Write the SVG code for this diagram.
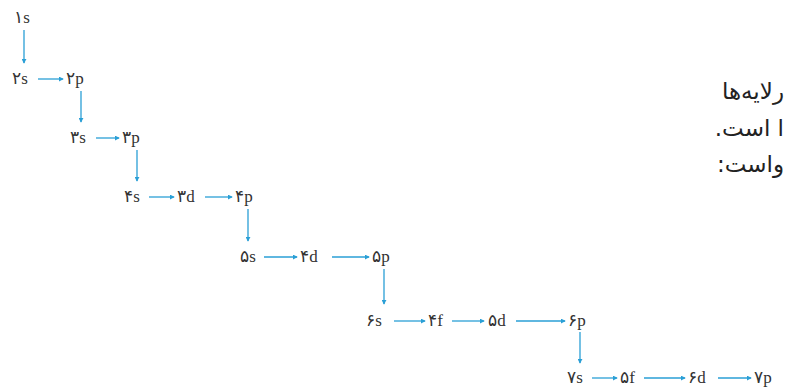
<svg xmlns="http://www.w3.org/2000/svg" width="785" height="389" viewBox="0 0 785 389">
<defs>
<marker id="ah" viewBox="0 0 6 6" refX="5" refY="3" markerWidth="5" markerHeight="5" orient="auto" markerUnits="userSpaceOnUse">
<path d="M0,0 L6,3 L0,6 z" fill="#2a9fd6"/>
</marker>
<style>
.lb{font-family:"Liberation Serif","DejaVu Sans",serif;font-size:17px;fill:#333;}
.fa{font-family:"DejaVu Sans","Noto Sans",sans-serif;font-size:23px;fill:#222;}
.cn line{stroke:#2a9fd6;stroke-width:1.3;marker-end:url(#ah);}
</style>
</defs>
<rect width="785" height="389" fill="#ffffff"/>
<g id="n1s"><text class="lb" x="14" y="23">۱s</text></g>
<g id="n2s"><text class="lb" x="12" y="84">۲s</text></g>
<g id="n2p"><text class="lb" x="66" y="84">۲p</text></g>
<g id="n3s"><text class="lb" x="70" y="143">۳s</text></g>
<g id="n3p"><text class="lb" x="122" y="143">۳p</text></g>
<g id="n4s"><text class="lb" x="124" y="202">۴s</text></g>
<g id="n3d"><text class="lb" x="177" y="202">۳d</text></g>
<g id="n4p"><text class="lb" x="235" y="202">۴p</text></g>
<g id="n5s"><text class="lb" x="240" y="262">۵s</text></g>
<g id="n4d"><text class="lb" x="300" y="262">۴d</text></g>
<g id="n5p"><text class="lb" x="372" y="262">۵p</text></g>
<g id="n6s"><text class="lb" x="366" y="326">۶s</text></g>
<g id="n4f"><text class="lb" x="428" y="326">۴f</text></g>
<g id="n5d"><text class="lb" x="488" y="326">۵d</text></g>
<g id="n6p"><text class="lb" x="568" y="326">۶p</text></g>
<g id="n7s"><text class="lb" x="567" y="383">۷s</text></g>
<g id="n5f"><text class="lb" x="620" y="383">۵f</text></g>
<g id="n6d"><text class="lb" x="688" y="383">۶d</text></g>
<g id="n7p"><text class="lb" x="754" y="383">۷p</text></g>
<g class="cn" id="connectors">
<line x1="24" y1="30" x2="24" y2="63"/>
<line x1="38" y1="79" x2="63" y2="79"/>
<line x1="81" y1="91" x2="81" y2="122"/>
<line x1="96" y1="138" x2="119" y2="138"/>
<line x1="137" y1="150" x2="137" y2="181"/>
<line x1="149" y1="197" x2="174" y2="197"/>
<line x1="205" y1="197" x2="232" y2="197"/>
<line x1="248" y1="209" x2="248" y2="241"/>
<line x1="264" y1="257" x2="297" y2="257"/>
<line x1="332" y1="257" x2="369" y2="257"/>
<line x1="384" y1="269" x2="384" y2="304"/>
<line x1="394" y1="321" x2="425" y2="321"/>
<line x1="452" y1="321" x2="484" y2="321"/>
<line x1="516" y1="321" x2="565" y2="321"/>
<line x1="580" y1="332" x2="580" y2="363"/>
<line x1="592" y1="378" x2="617" y2="378"/>
<line x1="644" y1="378" x2="685" y2="378"/>
<line x1="718" y1="378" x2="751" y2="378"/>
</g>
<g id="persian">
<text class="fa" x="784" y="99" direction="rtl" text-anchor="start">رلایه‌ها</text>
<text class="fa" x="784" y="136" direction="rtl" text-anchor="start">ا است.</text>
<text class="fa" x="784" y="172" direction="rtl" text-anchor="start">واست:</text>
</g>
</svg>
